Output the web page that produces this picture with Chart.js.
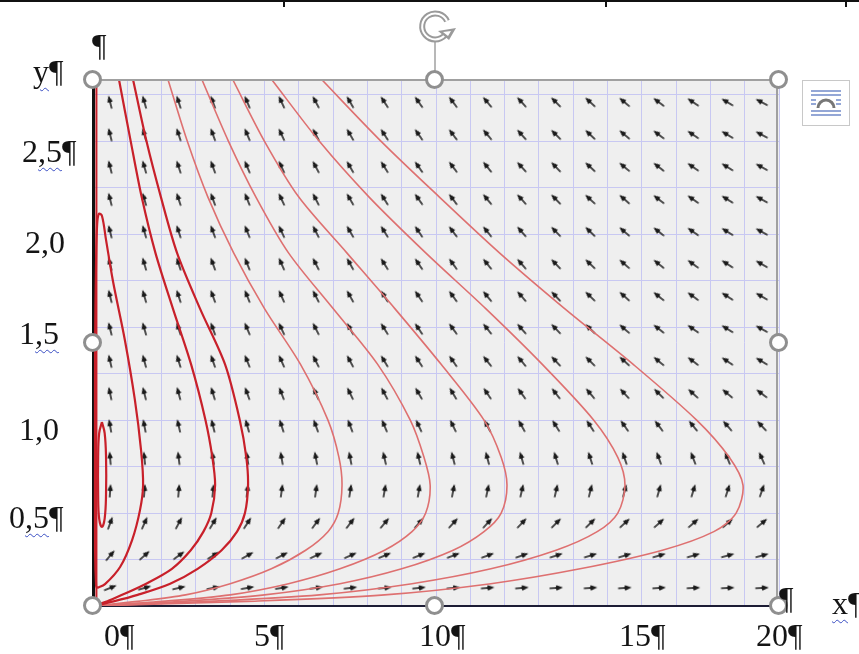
<!DOCTYPE html>
<html><head><meta charset="utf-8">
<script src="https://cdn.jsdelivr.net/npm/chart.js@4.4.0/dist/chart.umd.min.js"></script>
<style>
html,body{margin:0;padding:0;background:#fff;}
#wrap{position:relative;width:859px;height:654px;overflow:hidden;background:#fff;}
#c{position:absolute;left:0;top:0;}
.t{position:absolute;font-family:'Liberation Serif','Times New Roman',serif;font-size:32px;line-height:32px;color:#141414;white-space:nowrap;}
.sq{text-decoration-line:underline;text-decoration-style:wavy;text-decoration-color:#3b4fc4;text-decoration-thickness:1px;text-underline-offset:5px;}
.h{position:absolute;width:13px;height:13px;border:3px solid #8f8f8f;border-radius:50%;background:#fff;}
#frame{position:absolute;left:93px;top:79px;width:685px;height:527px;border-top:2px solid #a0a0a0;border-right:2px solid #a0a0a0;box-sizing:border-box;}
</style></head>
<body><div id="wrap">
<canvas id="c" width="859" height="654"></canvas>
<div style="position:absolute;left:0;top:0;width:859px;height:2px;background:#111"></div>
<div style="position:absolute;left:283px;top:0;width:2px;height:7px;background:#111"></div>
<div style="position:absolute;left:605px;top:0;width:2px;height:7px;background:#111"></div>
<div style="position:absolute;left:845px;top:0;width:2px;height:7px;background:#111"></div>
<div id="frame"></div>
<svg style="position:absolute;left:414px;top:6px" width="50" height="70">
 <line x1="21" y1="36" x2="21" y2="66" stroke="#a0a0a0" stroke-width="1.5"/>
 <path d="M31 29 A13 13 0 1 1 33 15" fill="none" stroke="#9a9a9a" stroke-width="6"/>
 <path d="M31 29 A13 13 0 1 1 33 15" fill="none" stroke="#fff" stroke-width="2"/>
 <path d="M24 25 L42 22 L35 34 Z" fill="#9a9a9a"/>
 <path d="M29 26 L37 25 L34 30 Z" fill="#fff"/>
</svg>
<div class="h" style="left:83px;top:70px"></div>
<div class="h" style="left:425px;top:70px"></div>
<div class="h" style="left:769px;top:70px"></div>
<div class="h" style="left:83px;top:333px"></div>
<div class="h" style="left:769px;top:333px"></div>
<div class="h" style="left:83px;top:596px"></div>
<div class="h" style="left:425px;top:596px"></div>
<div class="h" style="left:769px;top:596px"></div>
<svg style="position:absolute;left:802px;top:80px" width="48" height="46">
 <rect x="0.5" y="0.5" width="47" height="45" fill="#fff" stroke="#c8c8c8"/>
 <line x1="9" y1="11" x2="39" y2="11" stroke="#5a78c0" stroke-width="1.3"/>
 <line x1="9" y1="15" x2="39" y2="15" stroke="#5a78c0" stroke-width="1.3"/>
 <line x1="9" y1="20" x2="14" y2="20" stroke="#5a78c0" stroke-width="1.3"/>
 <line x1="34" y1="20" x2="39" y2="20" stroke="#5a78c0" stroke-width="1.3"/>
 <line x1="9" y1="24" x2="14" y2="24" stroke="#5a78c0" stroke-width="1.3"/>
 <line x1="34" y1="24" x2="39" y2="24" stroke="#5a78c0" stroke-width="1.3"/>
 <path d="M16 28 A8 8 0 0 1 32 28" fill="none" stroke="#777" stroke-width="3"/>
 <line x1="9" y1="31" x2="39" y2="31" stroke="#5a78c0" stroke-width="1.3"/>
 <line x1="9" y1="35" x2="39" y2="35" stroke="#5a78c0" stroke-width="1.3"/>
</svg>
<div class="t" style="left:92px;top:29px">¶</div>
<div class="t" style="left:33px;top:55px"><span class="sq">y</span>¶</div>
<div class="t" style="left:22px;top:135px">2<span class="sq">,5</span>¶</div>
<div class="t" style="left:25px;top:226px">2,0</div>
<div class="t" style="left:19px;top:317px">1<span class="sq">,5</span></div>
<div class="t" style="left:19px;top:413px">1,0</div>
<div class="t" style="left:9px;top:501px">0<span class="sq">,5</span>¶</div>
<div class="t" style="left:104px;top:619px">0¶</div>
<div class="t" style="left:254px;top:619px">5¶</div>
<div class="t" style="left:419px;top:619px">10¶</div>
<div class="t" style="left:619px;top:619px">15¶</div>
<div class="t" style="left:756px;top:619px">20¶</div>
<div class="t" style="left:832px;top:587px"><span class="sq">x</span>¶</div>
<div class="t" style="left:779px;top:582px">¶</div>
</div>
<script>
// ---- axis ranges ----
const xRange = [0, 20];
const yRange = [0, 2.83];

// ---- direction field (arrow grid) ----
const arrowCols = [0.5,1.5,2.5,3.5,4.5,5.5,6.5,7.5,8.5,9.5,10.5,11.5,12.5,13.5,14.5,15.5,16.5,17.5,18.5,19.5];
const arrowRows = [2.71,2.535,2.361,2.187,2.013,1.839,1.665,1.49,1.316,1.142,0.968,0.794,0.619,0.445,0.271,0.097];
// arrow direction in degrees (counter-clockwise from +x), one row per arrowRows entry
const arrowAngles = [
 [104,106,108,110,113,115,118,120,123,125,127,130,132,135,137,140,143,146,149,152],
 [104,106,108,110,113,115,118,120,123,125,127,130,132,135,137,140,143,146,149,152],
 [104,106,108,110,113,115,118,120,122,125,127,129,132,134,137,140,142,145,148,151],
 [104,106,108,110,112,115,117,120,122,125,127,129,132,134,137,139,142,145,148,151],
 [104,106,108,110,112,115,117,120,122,124,127,129,131,134,136,139,142,145,148,151],
 [104,106,108,110,112,114,117,119,122,124,126,129,131,134,136,139,141,144,147,150],
 [104,106,108,110,112,114,117,119,122,124,126,129,131,133,136,138,141,144,147,150],
 [104,106,108,110,113,115,117,119,122,124,126,129,131,134,136,139,142,145,148,151],
 [103,105,107,109,112,114,117,118,121,123,125,128,130,133,135,138,140,143,146,149],
 [102,104,105,107,110,111,114,116,118,120,121,124,126,128,130,133,135,138,140,143],
 [100,101,103,104,106,108,110,111,113,115,116,118,119,122,123,125,127,129,131,133],
 [95,96,97,98,99,100,101,101,103,103,104,105,106,107,108,109,110,111,112,114],
 [86,85,85,84,83,82,82,81,80,80,79,78,77,77,76,75,74,73,72,71],
 [70,66,62,59,57,55,53,52,50,49,48,47,46,45,44,43,42,41,41,40],
 [50,42,36,32,29,27,25,24,23,22,21,20,19,18,17,17,16,16,15,15],
 [22,16,13,11,10,9,8,7,6,6,5,5,5,4,4,4,4,3,3,3]
];

// ---- trajectories [x, y] ----
const orbitSmall = [[0.26,0.99],[0.34,0.93],[0.38,0.80],[0.38,0.60],[0.34,0.47],[0.26,0.425],[0.18,0.47],[0.15,0.60],[0.15,0.80],[0.18,0.93],[0.26,0.99]];
const orbitLoop = [[0.12,0.097],[0.35,0.118],[0.79,0.21],[1.14,0.355],[1.37,0.516],[1.46,0.65],[1.40,0.84],[1.22,1.11],[0.93,1.43],[0.58,1.75],[0.38,1.97],[0.26,2.10],[0.17,2.11],[0.12,2.05],[0.09,1.86],[0.06,1.38],[0.06,0.84],[0.06,0.30],[0.09,0.11],[0.12,0.097]];
const axisOrbit = [[0.1,0],[0.1,2.83]];
const traj1 = [[0.76,2.83],[1.10,2.5],[1.42,2.2],[1.82,1.9],[2.33,1.6],[2.86,1.3],[3.28,1.0],[3.48,0.8],[3.56,0.65],[3.45,0.5],[3.22,0.4],[2.85,0.3],[2.30,0.2],[1.55,0.12],[0.85,0.06],[0.42,0.025],[0,0]];
const traj2 = [[1.17,2.83],[1.56,2.5],[1.98,2.2],[2.45,1.9],[3.12,1.6],[3.85,1.3],[4.28,1.0],[4.47,0.8],[4.52,0.65],[4.43,0.5],[4.20,0.4],[3.75,0.3],[3.05,0.2],[2.25,0.12],[1.30,0.06],[0.60,0.025],[0,0]];
const traj3 = [[2.19,2.83],[2.75,2.5],[3.35,2.2],[4.10,1.9],[5.00,1.6],[6.05,1.3],[6.85,1.0],[7.17,0.8],[7.26,0.65],[7.15,0.5],[6.85,0.4],[6.20,0.3],[5.20,0.2],[4.00,0.12],[2.70,0.06],[1.30,0.025],[0,0]];
const traj4 = [[3.18,2.83],[3.95,2.5],[4.75,2.2],[5.70,1.9],[7.00,1.6],[8.30,1.3],[9.25,1.0],[9.65,0.8],[9.83,0.65],[9.70,0.5],[9.30,0.4],[8.50,0.3],[7.20,0.2],[5.70,0.12],[4.00,0.06],[2.00,0.025],[0,0]];
const traj5 = [[4.08,2.83],[5.00,2.5],[6.00,2.2],[7.40,1.9],[8.80,1.6],[10.15,1.3],[11.40,1.0],[11.90,0.8],[12.07,0.65],[11.90,0.5],[11.40,0.4],[10.50,0.3],[9.00,0.2],[7.20,0.12],[5.00,0.06],[2.60,0.025],[0,0]];
const traj6 = [[5.22,2.83],[6.60,2.5],[8.05,2.2],[9.70,1.9],[11.45,1.6],[13.10,1.3],[14.60,1.0],[15.30,0.8],[15.51,0.65],[15.30,0.5],[14.70,0.4],[13.50,0.3],[11.60,0.2],[9.30,0.12],[6.60,0.06],[3.40,0.025],[0,0]];
const traj7 = [[6.68,2.83],[8.40,2.5],[10.10,2.2],[11.85,1.9],[13.75,1.6],[15.75,1.3],[17.60,1.0],[18.55,0.8],[18.95,0.65],[18.75,0.5],[18.10,0.4],[16.60,0.3],[14.20,0.2],[11.60,0.12],[8.50,0.06],[4.50,0.025],[0,0]];

// ---- build ----
function arrowImg(){
  const c=document.createElement('canvas');c.width=20;c.height=20;
  const g=c.getContext('2d');g.translate(10,10);
  g.strokeStyle='#1a1a1a';g.fillStyle='#1a1a1a';g.lineWidth=1.5;
  g.beginPath();g.moveTo(-6.5,0);g.lineTo(2,0);g.stroke();
  g.beginPath();g.moveTo(7,0);g.lineTo(0.5,-2.8);g.lineTo(-0.5,0);g.lineTo(0.5,2.8);g.closePath();g.fill();
  return c;
}
const arrowPts=[];
arrowRows.forEach((y,i)=>arrowCols.forEach((x,j)=>arrowPts.push({x:x,y:y,a:arrowAngles[i][j]})));
const toPts=a=>a.map(p=>({x:p[0],y:p[1]}));
function curve(arr,color,w,t){return {type:'line',data:toPts(arr),borderColor:color,borderWidth:w,pointRadius:0,tension:t,fill:false,order:0};}

const bg={id:'bg',beforeDraw(ch){const {ctx,chartArea:a}=ch;ctx.save();ctx.fillStyle='#efefef';ctx.fillRect(a.left,a.top,a.right-a.left,a.bottom-a.top);ctx.restore();}};
const dark='#c8202a', light='#de7070';
new Chart(document.getElementById('c'),{
  type:'scatter',
  data:{datasets:[
    curve(orbitSmall,dark,2.2,0.4),
    curve(orbitLoop,dark,2.2,0.35),
    curve(axisOrbit,dark,2,0),
    curve(traj1,dark,2.2,0.3),
    curve(traj2,dark,2.2,0.3),
    curve(traj3,light,1.6,0.3),
    curve(traj4,light,1.6,0.3),
    curve(traj5,light,1.6,0.3),
    curve(traj6,light,1.6,0.3),
    curve(traj7,light,1.6,0.3),
    {type:'scatter',data:arrowPts,pointStyle:arrowImg(),pointRadius:10,rotation:c=>-(c.raw?c.raw.a:0),order:10}
  ]},
  options:{
    responsive:false,animation:false,devicePixelRatio:1,
    layout:{padding:{left:93,right:80,top:80,bottom:48}},
    plugins:{legend:{display:false},tooltip:{enabled:false}},
    scales:{
      x:{type:'linear',min:xRange[0],max:xRange[1],ticks:{display:false,stepSize:1},grid:{color:'#c8c8f2',lineWidth:1,drawTicks:false},border:{display:true,color:'#1c1c34',width:2}},
      y:{type:'linear',min:yRange[0],max:yRange[1],ticks:{display:false,stepSize:0.25},grid:{color:'#c8c8f2',lineWidth:1,drawTicks:false},border:{display:true,color:'#111',width:3}}
    }
  },
  plugins:[bg]
});
</script>
</body></html>
